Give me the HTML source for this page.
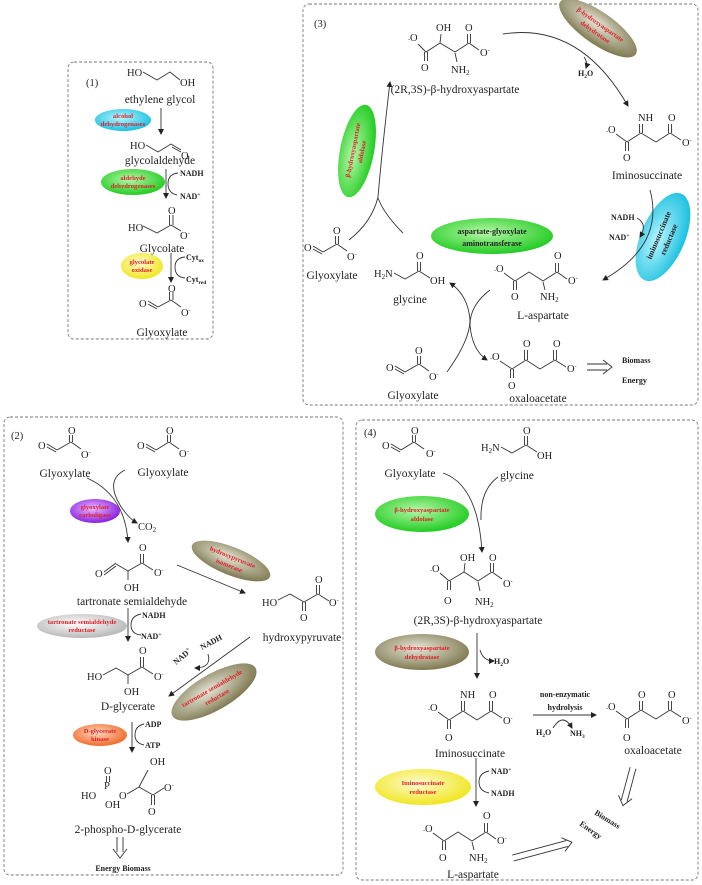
<!DOCTYPE html>
<html><head><meta charset="utf-8"><style>
html,body{margin:0;padding:0;background:#fff;}
svg{display:block;}
text{font-family:"Liberation Serif",serif;fill:#222;}
.l{font-size:11.5px;text-anchor:middle;}
.a{font-size:10.5px;}
.e{font-size:6.6px;font-weight:bold;fill:#e0202a;text-anchor:middle;}
.c{font-size:8px;font-weight:bold;}
.b{stroke:#333;stroke-width:0.9;fill:none;}
.box{fill:none;stroke:#777;stroke-width:0.9;stroke-dasharray:3,2;}
</style></head><body>
<svg width="702" height="885" viewBox="0 0 702 885" xmlns="http://www.w3.org/2000/svg">
<defs>
<marker id="ar" markerWidth="6" markerHeight="6" refX="5" refY="3" orient="auto" markerUnits="userSpaceOnUse"><path d="M0,0 L6,3 L0,6 z" fill="#222"/></marker>
<radialGradient id="gc" cx="45%" cy="40%" r="60%"><stop offset="0" stop-color="#b8f6ff"/><stop offset="1" stop-color="#1cc0e0"/></radialGradient>
<radialGradient id="gg" cx="45%" cy="40%" r="60%"><stop offset="0" stop-color="#b6f7a8"/><stop offset="1" stop-color="#22cc22"/></radialGradient>
<radialGradient id="gy" cx="45%" cy="40%" r="60%"><stop offset="0" stop-color="#fffbd0"/><stop offset="1" stop-color="#f0e620"/></radialGradient>
<radialGradient id="gp" cx="45%" cy="40%" r="60%"><stop offset="0" stop-color="#e8b8ff"/><stop offset="1" stop-color="#8a20e0"/></radialGradient>
<radialGradient id="gb" cx="45%" cy="40%" r="60%"><stop offset="0" stop-color="#e8e6d8"/><stop offset="1" stop-color="#7f7a52"/></radialGradient>
<radialGradient id="gw" cx="45%" cy="40%" r="60%"><stop offset="0" stop-color="#ffffff"/><stop offset="1" stop-color="#b8b8b8"/></radialGradient>
<radialGradient id="go" cx="45%" cy="40%" r="60%"><stop offset="0" stop-color="#ffd8c0"/><stop offset="1" stop-color="#f06a2a"/></radialGradient>
</defs>

<!-- boxes -->
<rect class="box" x="68" y="62" width="145" height="277" rx="6"/>
<rect class="box" x="303" y="4" width="395" height="401" rx="6"/>
<rect class="box" x="4" y="417" width="339" height="458" rx="6"/>
<rect class="box" x="356" y="420" width="342" height="460" rx="6"/>

<!-- ===== Panel 1 ===== -->
<text class="a" x="86" y="86">(1)</text>
<text class="a" x="127" y="76">HO</text>
<path class="b" d="M143,72 L157,80 L170,72 L180,80"/>
<text class="a" x="180" y="86">OH</text>
<text class="l" x="160" y="103">ethylene glycol</text>
<ellipse cx="123" cy="120" rx="28" ry="11" fill="url(#gc)"/>
<text class="e" x="123" y="118">alcohol</text>
<text class="e" x="123" y="126">dehydrogenases</text>
<line class="b" x1="161" y1="108" x2="161" y2="134" marker-end="url(#ar)"/>
<text class="a" x="130" y="149">HO</text>
<path class="b" d="M146,145 L158,152 L171,144 L181,150 M172,147 L181,152"/>
<text class="a" x="181" y="159">O</text>
<text class="l" x="160" y="164">glycolaldehyde</text>
<ellipse cx="133" cy="182" rx="32" ry="13" fill="url(#gg)"/>
<text class="e" x="133" y="180">aldehyde</text>
<text class="e" x="133" y="188">dehydrogenases</text>
<line class="b" x1="166" y1="169" x2="166" y2="198" marker-end="url(#ar)"/>
<path class="b" d="M178,173 Q168,174 168,184 Q168,193 177,195"/>
<text class="c" x="180" y="176">NADH</text>
<text class="c" x="180" y="199">NAD<tspan font-size="5.5" dy="-3">+</tspan></text>
<text class="a" x="168" y="214">O</text>
<text class="a" x="128" y="231">HO</text>
<path class="b" d="M143,226 L157,233 L171,225 M169.5,225 L169.5,215 M173,225 L173,215 M171,225 L181,231"/>
<text class="a" x="180" y="239">O<tspan font-size="6" dy="-4">-</tspan></text>
<text class="l" x="162" y="252">Glycolate</text>
<ellipse cx="142" cy="266" rx="21" ry="13" fill="url(#gy)"/>
<text class="e" x="142" y="264">glycolate</text>
<text class="e" x="142" y="272">oxidase</text>
<line class="b" x1="171" y1="253" x2="171" y2="282" marker-end="url(#ar)"/>
<path class="b" d="M185,257 Q175,258 175,267 Q175,277 185,278"/>
<text class="c" x="186" y="260">Cyt<tspan font-size="5.5" dy="2">ox</tspan></text>
<text class="c" x="186" y="282">Cyt<tspan font-size="5.5" dy="2">red</tspan></text>
<text class="a" x="168" y="292">O</text>
<text class="a" x="139" y="307">O</text>
<path class="b" d="M148,301 L158,307 M148,304 L157,309 M158,307 L171,300 M169.5,300 L169.5,292 M173,300 L173,292 M171,300 L181,307"/>
<text class="a" x="181" y="316">O<tspan font-size="6" dy="-4">-</tspan></text>
<text class="l" x="162" y="336">Glyoxylate</text>

<!-- ===== Panel 3 ===== -->
<text class="a" x="314" y="27">(3)</text>
<text class="a" x="436" y="31">OH</text>
<text class="a" x="465" y="31">O</text>
<text class="a" x="408" y="45"><tspan font-size="6" dy="-4">-</tspan>O</text>
<path class="b" d="M418,44 L426,52 L440,43 L455,52 L469,43 M424.5,52 L424.5,61 M427.5,52 L427.5,61 M440,43 L441,34 M467.5,43 L467.5,34 M470.5,43 L470.5,34 M469,43 L479,50 M455,53 L457,62" />
<text class="a" x="421" y="71">O</text>
<text class="a" x="480" y="56">O<tspan font-size="6" dy="-4">-</tspan></text>
<text class="a" x="451" y="73">NH<tspan font-size="7" dy="2">2</tspan></text>
<text class="l" x="455" y="93">(2R,3S)-β-hydroxyaspartate</text>
<g transform="translate(598,28) rotate(35)"><ellipse rx="46" ry="16" fill="url(#gb)"/><text class="e" y="-2">β-hydroxyaspartate</text><text class="e" y="7">dehydratase</text></g>
<path class="b" d="M503,34 Q580,22 628,106" marker-end="url(#ar)"/>
<path class="b" d="M584,57 Q588,62 586,68" marker-end="url(#ar)"/>
<text class="c" x="578" y="76">H<tspan font-size="5.5" dy="2">2</tspan><tspan dy="-2">O</tspan></text>
<text class="a" x="638" y="121">NH</text>
<text class="a" x="668" y="121">O</text>
<text class="a" x="606" y="137"><tspan font-size="6" dy="-4">-</tspan>O</text>
<path class="b" d="M616,134 L627,142 L641,133 L656,142 L670,133 M625.5,142 L625.5,151 M628.5,142 L628.5,151 M639.5,133 L639.5,124 M642.5,133 L642.5,124 M668.5,133 L668.5,124 M671.5,133 L671.5,124 M670,133 L681,140"/>
<text class="a" x="623" y="161">O</text>
<text class="a" x="682" y="146">O<tspan font-size="6" dy="-4">-</tspan></text>
<text class="l" x="647" y="179">Iminosuccinate</text>
<g transform="translate(663,237) rotate(-67)"><ellipse rx="47" ry="22" fill="url(#gc)"/><text class="c" text-anchor="middle" y="-2" font-size="9.5" fill="#222">iminosuccinate</text><text class="c" text-anchor="middle" y="9" font-size="9.5" fill="#222">reductase</text></g>
<path class="b" d="M650,190 Q665,245 603,280" marker-end="url(#ar)"/>
<path class="b" d="M637,218 Q648,224 640,237" marker-end="url(#ar)"/>
<text class="c" x="611" y="220">NADH</text>
<text class="c" x="609" y="240">NAD<tspan font-size="5.5" dy="-3">+</tspan></text>
<ellipse cx="492" cy="236" rx="61" ry="18" fill="url(#gg)"/>
<text class="c" x="492" y="234" text-anchor="middle" font-size="10">aspartate-glyoxylate</text>
<text class="c" x="492" y="246" text-anchor="middle" font-size="10">aminotransferase</text>
<text class="a" x="494" y="276"><tspan font-size="6" dy="-4">-</tspan>O</text>
<text class="a" x="554" y="259">O</text>
<path class="b" d="M504,273 L515,281 L529,272 L543,281 L557,272 M513.5,281 L513.5,290 M516.5,281 L516.5,290 M555.5,272 L555.5,263 M558.5,272 L558.5,263 M557,272 L567,279 M543,282 L545,290"/>
<text class="a" x="511" y="300">O</text>
<text class="a" x="568" y="284">O<tspan font-size="6" dy="-4">-</tspan></text>
<text class="a" x="540" y="300">NH<tspan font-size="7" dy="2">2</tspan></text>
<text class="l" x="543" y="319">L-aspartate</text>
<text class="a" x="374" y="277">H<tspan font-size="7" dy="2">2</tspan><tspan dy="-2">N</tspan></text>
<text class="a" x="416" y="259">O</text>
<path class="b" d="M394,273 L405,279 L419,271 M417.5,271 L417.5,262 M420.5,271 L420.5,262 M419,271 L430,278"/>
<text class="a" x="430" y="284">OH</text>
<text class="l" x="410" y="303">glycine</text>
<text class="a" x="333" y="234">O</text>
<text class="a" x="304" y="251">O</text>
<path class="b" d="M313,246 L323,252 M313,249 L322,254 M323,252 L337,244 M335.5,244 L335.5,236 M338.5,244 L338.5,236 M337,244 L347,251"/>
<text class="a" x="347" y="260">O<tspan font-size="6" dy="-4">-</tspan></text>
<text class="l" x="332" y="279">Glyoxylate</text>
<g transform="translate(357,151) rotate(-79)"><ellipse rx="47" ry="17" fill="url(#gg)"/><text class="e" y="-2">β-hydroxyaspartate</text><text class="e" y="7">aldolase</text></g>
<path class="b" d="M349,240 Q372,222 378,197 Q382,150 390,82" marker-end="url(#ar)"/>
<path class="b" d="M403,233 Q384,214 378,198"/>
<path class="b" d="M447,372 Q470,340 470,320 Q468,295 450,283" marker-end="url(#ar)"/>
<path class="b" d="M490,290 Q470,305 470,325 Q472,350 487,360" marker-end="url(#ar)"/>
<text class="a" x="415" y="354">O</text>
<text class="a" x="386" y="371">O</text>
<path class="b" d="M395,366 L405,372 M395,369 L404,374 M405,372 L419,364 M417.5,364 L417.5,356 M420.5,364 L420.5,356 M419,364 L429,371"/>
<text class="a" x="429" y="380">O<tspan font-size="6" dy="-4">-</tspan></text>
<text class="l" x="413" y="399">Glyoxylate</text>
<text class="a" x="490" y="364"><tspan font-size="6" dy="-4">-</tspan>O</text>
<text class="a" x="523" y="347">O</text>
<text class="a" x="553" y="347">O</text>
<path class="b" d="M500,361 L512,369 L526,360 L540,369 L555,360 M510.5,369 L510.5,378 M513.5,369 L513.5,378 M524.5,360 L524.5,350 M527.5,360 L527.5,350 M553.5,360 L553.5,350 M556.5,360 L556.5,350 M555,360 L566,367"/>
<text class="a" x="508" y="389">O</text>
<text class="a" x="567" y="372">O<tspan font-size="6" dy="-4">-</tspan></text>
<text class="l" x="538" y="402">oxaloacetate</text>
<path class="b" d="M587,364 L607,364 M587,370 L607,370 M603,360 L612,367 L603,374"/>
<text class="c" x="622" y="363">Biomass</text>
<text class="c" x="622" y="383">Energy</text>

<!-- ===== Panel 2 ===== -->
<text class="a" x="11" y="439">(2)</text>
<text class="a" x="68" y="434">O</text>
<text class="a" x="38" y="449">O</text>
<path class="b" d="M47,444 L57,450 M47,447 L56,452 M57,450 L71,442 M69.5,442 L69.5,435 M72.5,442 L72.5,435 M71,442 L81,449"/>
<text class="a" x="81" y="458">O<tspan font-size="6" dy="-4">-</tspan></text>
<text class="l" x="65" y="477">Glyoxylate</text>
<text class="a" x="166" y="434">O</text>
<text class="a" x="137" y="449">O</text>
<path class="b" d="M146,444 L156,450 M146,447 L155,452 M156,450 L169,442 M167.5,442 L167.5,435 M170.5,442 L170.5,435 M169,442 L179,449"/>
<text class="a" x="179" y="457">O<tspan font-size="6" dy="-4">-</tspan></text>
<text class="l" x="163" y="476">Glyoxylate</text>
<path class="b" d="M87,478 Q125,495 128,542" marker-end="url(#ar)"/>
<path class="b" d="M125,470 Q105,480 120,505 Q128,518 137,523" marker-end="url(#ar)"/>
<ellipse cx="95" cy="511" rx="25" ry="12" fill="url(#gp)"/>
<text class="e" x="95" y="509">glyoxylate</text>
<text class="e" x="95" y="517">carboligase</text>
<text class="a" x="138" y="530">CO<tspan font-size="7" dy="2">2</tspan></text>
<text class="a" x="139" y="551">O</text>
<text class="a" x="95" y="577">O</text>
<path class="b" d="M104,572 L116,563 M104,575 L116,566 M116,564 L128,571 L142,563 M140.5,563 L140.5,554 M143.5,563 L143.5,554 M142,563 L153,570 M128,571 L128,580"/>
<text class="a" x="154" y="576">O<tspan font-size="6" dy="-4">-</tspan></text>
<text class="a" x="124" y="591">OH</text>
<text class="l" x="132" y="605">tartronate semialdehyde</text>
<line class="b" x1="177" y1="565" x2="245" y2="593" marker-end="url(#ar)"/>
<g transform="translate(231,561) rotate(22)"><ellipse rx="42" ry="14" fill="url(#gb)"/><text class="e" y="-2">hydroxypyruvate</text><text class="e" y="7">isomerase</text></g>
<text class="a" x="262" y="606">HO</text>
<text class="a" x="315" y="583">O</text>
<path class="b" d="M278,600 L290,594 L304,602 L318,594 L329,601 M302.5,602 L302.5,611 M305.5,602 L305.5,611 M316.5,594 L316.5,585 M319.5,594 L319.5,585"/>
<text class="a" x="329" y="606">O<tspan font-size="6" dy="-4">-</tspan></text>
<text class="a" x="300" y="621">O</text>
<text class="l" x="302" y="641">hydroxypyruvate</text>
<ellipse cx="82" cy="626" rx="45" ry="12" fill="url(#gw)"/>
<text class="e" x="82" y="624">tartronate semialdehyde</text>
<text class="e" x="82" y="632">reductase</text>
<line class="b" x1="128" y1="608" x2="128" y2="641" marker-end="url(#ar)"/>
<path class="b" d="M141,614 Q131,616 131,625 Q131,634 141,635"/>
<text class="c" x="142" y="618">NADH</text>
<text class="c" x="141" y="639">NAD<tspan font-size="5.5" dy="-3">+</tspan></text>
<text class="a" x="139" y="654">O</text>
<text class="a" x="87" y="680">HO</text>
<path class="b" d="M103,675 L116,668 L128,675 L142,667 M140.5,667 L140.5,657 M143.5,667 L143.5,657 M142,667 L153,674 M128,675 L128,684"/>
<text class="a" x="154" y="680">O<tspan font-size="6" dy="-4">-</tspan></text>
<text class="a" x="124" y="695">OH</text>
<text class="l" x="128" y="710">D-glycerate</text>
<line class="b" x1="250" y1="637" x2="169" y2="696" marker-end="url(#ar)"/>
<text class="c" transform="translate(176,665) rotate(-40)">NAD<tspan font-size="5.5" dy="-3">+</tspan></text>
<text class="c" transform="translate(202,650) rotate(-28)">NADH</text>
<path class="b" d="M208,654 Q212,668 195,668" marker-end="url(#ar)"/>
<g transform="translate(214,692) rotate(-30)"><ellipse rx="48" ry="18" fill="url(#gb)"/><text class="e" y="-2">tartronate semialdehyde</text><text class="e" y="8">reductase</text></g>
<ellipse cx="100" cy="735" rx="27" ry="11" fill="url(#go)"/>
<text class="e" x="100" y="733" fill="#e0202a">D-glycerate</text>
<text class="e" x="100" y="741">kinase</text>
<line class="b" x1="132" y1="722" x2="132" y2="752" marker-end="url(#ar)"/>
<path class="b" d="M144,724 Q135,726 135,735 Q135,743 144,745"/>
<text class="c" x="145" y="727">ADP</text>
<text class="c" x="145" y="748">ATP</text>
<text class="a" x="150" y="765">OH</text>
<text class="a" x="104" y="774">O</text>
<text class="a" x="104" y="789">P</text>
<text class="a" x="81" y="799">HO</text>
<text class="a" x="119" y="799">O</text>
<text class="a" x="105" y="808">OH</text>
<path class="b" d="M106.5,776 L106.5,782 M109.5,776 L109.5,782 M127,794 L139,787 L148,770 M139,787 L153,795 L164,788 M151.5,795 L151.5,805 M154.5,795 L154.5,805"/>
<text class="a" x="164" y="791">O<tspan font-size="6" dy="-4">-</tspan></text>
<text class="a" x="148" y="815">O</text>
<text class="l" x="128" y="833">2-phospho-D-glycerate</text>
<path class="b" d="M117,837 L117,852 M123,837 L123,852 M113,849 L120,858 L127,849"/>
<text class="c" x="123" y="871" text-anchor="middle">Energy  Biomass</text>

<!-- ===== Panel 4 ===== -->
<text class="a" x="364" y="436">(4)</text>
<text class="a" x="411" y="434">O</text>
<text class="a" x="382" y="449">O</text>
<path class="b" d="M391,444 L401,450 M391,447 L400,452 M401,450 L414,442 M412.5,442 L412.5,435 M415.5,442 L415.5,435 M414,442 L424,449"/>
<text class="a" x="426" y="457">O<tspan font-size="6" dy="-4">-</tspan></text>
<text class="l" x="410" y="477">Glyoxylate</text>
<text class="a" x="481" y="451">H<tspan font-size="7" dy="2">2</tspan><tspan dy="-2">N</tspan></text>
<text class="a" x="523" y="434">O</text>
<path class="b" d="M501,447 L512,453 L526,445 M524.5,445 L524.5,436 M527.5,445 L527.5,436 M526,445 L537,452"/>
<text class="a" x="537" y="459">OH</text>
<text class="l" x="517" y="479">glycine</text>
<path class="b" d="M443,473 Q478,485 482,552" marker-end="url(#ar)"/>
<path class="b" d="M498,477 Q480,490 481,520"/>
<ellipse cx="422" cy="514" rx="47" ry="18" fill="url(#gg)"/>
<text class="e" x="422" y="512">β-hydroxyaspartate</text>
<text class="e" x="422" y="521">aldolase</text>
<text class="a" x="460" y="561">OH</text>
<text class="a" x="489" y="561">O</text>
<text class="a" x="430" y="576"><tspan font-size="6" dy="-4">-</tspan>O</text>
<path class="b" d="M440,573 L449,581 L464,572 L478,581 L492,572 M447.5,581 L447.5,590 M450.5,581 L450.5,590 M464,572 L465,563 M490.5,572 L490.5,563 M493.5,572 L493.5,563 M492,572 L502,579 M478,582 L480,591"/>
<text class="a" x="444" y="604">O</text>
<text class="a" x="503" y="587">O<tspan font-size="6" dy="-4">-</tspan></text>
<text class="a" x="475" y="605">NH<tspan font-size="7" dy="2">2</tspan></text>
<text class="l" x="478" y="624">(2R,3S)-β-hydroxyaspartate</text>
<ellipse cx="422" cy="652" rx="47" ry="18" fill="url(#gb)"/>
<text class="e" x="422" y="650">β-hydroxyaspartate</text>
<text class="e" x="422" y="659">dehydratase</text>
<line class="b" x1="477" y1="633" x2="477" y2="678" marker-end="url(#ar)"/>
<path class="b" d="M480,650 Q483,661 494,661" marker-end="url(#ar)"/>
<text class="c" x="494" y="664">H<tspan font-size="5.5" dy="2">2</tspan><tspan dy="-2">O</tspan></text>
<text class="a" x="460" y="698">NH</text>
<text class="a" x="489" y="698">O</text>
<text class="a" x="428" y="715"><tspan font-size="6" dy="-4">-</tspan>O</text>
<path class="b" d="M438,712 L449,720 L463,711 L477,720 L491,711 M447.5,720 L447.5,729 M450.5,720 L450.5,729 M461.5,711 L461.5,701 M464.5,711 L464.5,701 M489.5,711 L489.5,701 M492.5,711 L492.5,701 M491,711 L502,718"/>
<text class="a" x="445" y="741">O</text>
<text class="a" x="503" y="724">O<tspan font-size="6" dy="-4">-</tspan></text>
<text class="l" x="470" y="757">Iminosuccinate</text>
<text class="c" x="565" y="697" text-anchor="middle" font-size="9.5">non-enzymatic</text>
<text class="c" x="565" y="710" text-anchor="middle" font-size="9.5">hydrolysis</text>
<line class="b" x1="533" y1="715" x2="596" y2="715" marker-end="url(#ar)"/>
<path class="b" d="M553,728 Q563,712 572,728" marker-end="url(#ar)"/>
<text class="c" x="536" y="735">H<tspan font-size="5.5" dy="2">2</tspan><tspan dy="-2">O</tspan></text>
<text class="c" x="570" y="736">NH<tspan font-size="5.5" dy="2">3</tspan></text>
<text class="a" x="606" y="714"><tspan font-size="6" dy="-4">-</tspan>O</text>
<text class="a" x="638" y="698">O</text>
<text class="a" x="668" y="698">O</text>
<path class="b" d="M616,711 L627,719 L641,710 L656,719 L670,710 M625.5,719 L625.5,728 M628.5,719 L628.5,728 M639.5,710 L639.5,701 M642.5,710 L642.5,701 M668.5,710 L668.5,701 M671.5,710 L671.5,701 M670,710 L681,717"/>
<text class="a" x="623" y="741">O</text>
<text class="a" x="682" y="724">O<tspan font-size="6" dy="-4">-</tspan></text>
<text class="l" x="653" y="754">oxaloacetate</text>
<g transform="translate(633,768) rotate(105)"><path class="b" d="M0,-3 L34,-3 M0,3 L34,3 M30,-7 L39,0 L30,7"/></g>
<text class="c" transform="translate(594,814) rotate(32)">Biomass</text>
<text class="c" transform="translate(579,825) rotate(35)">Energy</text>
<ellipse cx="423" cy="787" rx="48" ry="18" fill="url(#gy)"/>
<text class="e" x="423" y="785">Iminosuccinate</text>
<text class="e" x="423" y="794">reductase</text>
<line class="b" x1="476" y1="758" x2="476" y2="806" marker-end="url(#ar)"/>
<path class="b" d="M489,771 Q479,773 479,782 Q479,791 489,793"/>
<text class="c" x="491" y="774">NAD<tspan font-size="5.5" dy="-3">+</tspan></text>
<text class="c" x="491" y="796">NADH</text>
<text class="a" x="423" y="836"><tspan font-size="6" dy="-4">-</tspan>O</text>
<text class="a" x="483" y="819">O</text>
<path class="b" d="M433,833 L444,841 L458,832 L472,841 L486,832 M442.5,841 L442.5,850 M445.5,841 L445.5,850 M484.5,832 L484.5,823 M487.5,832 L487.5,823 M486,832 L496,839 M472,842 L474,850"/>
<text class="a" x="439" y="861">O</text>
<text class="a" x="497" y="844">O<tspan font-size="6" dy="-4">-</tspan></text>
<text class="a" x="469" y="861">NH<tspan font-size="7" dy="2">2</tspan></text>
<text class="l" x="473" y="878">L-aspartate</text>
<g transform="translate(513,858) rotate(-15)"><path class="b" d="M0,-3 L56,-3 M0,3 L56,3 M52,-7 L61,0 L52,7"/></g>
</svg>
</body></html>
